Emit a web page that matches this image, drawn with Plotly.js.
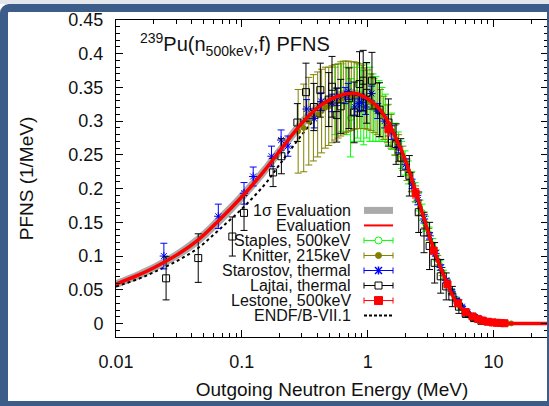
<!DOCTYPE html>
<html><head><meta charset="utf-8">
<script src="https://cdn.plot.ly/plotly-3.0.1.min.js"></script>
<style>
html,body{margin:0;padding:0;background:#fff;}
#wrap{position:relative;width:549px;height:406px;overflow:hidden;}
#plot{position:absolute;left:0;top:0;width:549px;height:406px;}
#strip{position:absolute;left:0;top:0;width:549px;height:4px;background:#e3e7ec;pointer-events:none;}
#frame{position:absolute;left:0;top:4px;width:549px;height:402px;box-sizing:border-box;border-style:solid;border-color:#3c5d8a;border-width:8px 2px 5px 8px;border-radius:9px 0 0 0;pointer-events:none;}
</style></head>
<body>
<div id="wrap"><div id="plot"></div><div id="strip"></div><div id="frame"></div></div>
<script>
// ---- Evaluation (red) and 1-sigma band ----
const E_eval = [0.01,0.015,0.02,0.03,0.045,0.065,0.1,0.15,0.2,0.3,0.4,0.5,0.6,0.7,0.8,0.9,1.0,1.2,1.4,1.7,2.0,2.4,2.8,3.3,3.8,4.4,5.0,5.7,6.5,7.5,8.5,10,12,15,20,27];
const pfns_eval = [0.0585,0.0716,0.0827,0.101,0.124,0.152,0.188,0.226,0.256,0.297,0.320,0.332,0.338,0.341,0.341,0.338,0.333,0.321,0.304,0.272,0.241,0.196,0.156,0.113,0.082,0.054,0.033,0.0205,0.0125,0.0072,0.0042,0.0016,0.0004,0.00005,0,0];
const band_hi = [0.0645,0.078,0.089,0.108,0.132,0.161,0.197,0.235,0.265,0.306,0.328,0.339,0.345,0.347,0.347,0.344,0.339,0.327,0.310,0.278,0.246,0.200,0.160,0.116,0.085,0.056,0.035,0.0215,0.013,0.0076,0.0045,0.0018,0.0005,0.00006,0,0];
const band_lo = [0.0525,0.0652,0.0764,0.094,0.116,0.143,0.179,0.217,0.247,0.288,0.312,0.325,0.331,0.335,0.335,0.332,0.327,0.315,0.298,0.266,0.236,0.192,0.152,0.110,0.079,0.052,0.031,0.0195,0.012,0.0068,0.0039,0.0014,0.0003,0.00004,0,0];
// ---- ENDF/B-VII.1 ----
const E_endf = [0.01,0.015,0.02,0.03,0.045,0.065,0.1,0.15,0.2,0.3,0.4,0.5,0.6,0.7,0.8,0.9,1.0,1.2,1.4,1.7,2.0,2.4,2.8,3.3,3.8,4.4,5.0,5.7,6.5,7.5,8.5,10,12,15,20,27];
const pfns_endf = [0.055,0.066,0.076,0.092,0.112,0.138,0.170,0.205,0.236,0.280,0.308,0.324,0.332,0.336,0.337,0.336,0.332,0.321,0.305,0.275,0.244,0.199,0.158,0.115,0.083,0.055,0.034,0.021,0.0127,0.0073,0.0043,0.0017,0.0004,0.00005,0,0];
// ---- Staples, 500keV ----
const E_staples = [0.55,0.62,0.68,0.73,0.78,0.83,0.88,0.93,0.98,1.04,1.1,1.16,1.23,1.3,1.38,1.46,1.55,1.65,1.75,1.86,1.98,2.1,2.24,2.38,2.53,2.7,2.88,3.07,3.28,3.5,3.75,4.0,4.3,4.6,5.0,5.4,5.9,6.4,7.0,7.7,8.5,9.4,10.4,11.5,12.7];
const pfns_staples = [0.33,0.335,0.33,0.305,0.325,0.33,0.325,0.32,0.33,0.325,0.32,0.318,0.315,0.31,0.305,0.295,0.285,0.273,0.262,0.25,0.238,0.224,0.21,0.195,0.18,0.165,0.148,0.133,0.117,0.101,0.086,0.073,0.06,0.048,0.036,0.026,0.018,0.012,0.008,0.005,0.003,0.0017,0.001,0.0005,0.0003];
const err_staples = [0.05,0.05,0.05,0.058,0.055,0.055,0.055,0.055,0.055,0.055,0.05,0.048,0.045,0.04,0.035,0.03,0.027,0.024,0.022,0.02,0.018,0.017,0.015,0.014,0.013,0.012,0.011,0.01,0.009,0.008,0.007,0.006,0.005,0.004,0.0035,0.003,0.0025,0.002,0.0015,0.001,0.0007,0.0005,0.0003,0.0002,0.0001];
// ---- Knitter, 215keV ----
const E_knitter = [0.28,0.31,0.34,0.37,0.40,0.43,0.46,0.49,0.52,0.55,0.58,0.61,0.64,0.67,0.70,0.74,0.78,0.82,0.86,0.90,0.95,1.0,1.06,1.12,1.19,1.26,1.34,1.43,1.53,1.64,1.76,1.9,2.05,2.22,2.4,2.6,2.82,3.06,3.32,3.6,3.9,4.25,4.65,5.1,5.6,6.2,6.9,7.7,8.6,9.6,10.8,12.2,13.8];
const pfns_knitter = [0.285,0.29,0.3,0.305,0.31,0.315,0.32,0.322,0.325,0.328,0.33,0.333,0.335,0.336,0.337,0.337,0.338,0.338,0.337,0.336,0.334,0.332,0.328,0.323,0.318,0.312,0.305,0.296,0.285,0.272,0.26,0.245,0.228,0.21,0.192,0.172,0.152,0.132,0.112,0.094,0.077,0.061,0.046,0.033,0.023,0.015,0.009,0.0055,0.003,0.0016,0.0008,0.0004,0.0002];
const err_knitter = [0.062,0.065,0.065,0.064,0.063,0.062,0.06,0.058,0.057,0.056,0.055,0.055,0.054,0.053,0.052,0.051,0.05,0.049,0.048,0.047,0.045,0.044,0.042,0.04,0.038,0.035,0.032,0.028,0.025,0.022,0.02,0.018,0.016,0.014,0.012,0.011,0.01,0.009,0.008,0.007,0.006,0.005,0.004,0.003,0.002,0.0015,0.001,0.0008,0.0005,0.0004,0.0003,0.0002,0.0001];
// ---- Starostov, thermal ----
const E_starostov = [0.024,0.065,0.104,0.123,0.172,0.205,0.232,0.327,0.375,0.427,0.52,0.57,0.66,0.70,0.79,0.84,0.89,0.96,1.07,1.2,1.36,1.55,1.75,2.0,2.25,2.5,2.8,3.1,3.45,3.8,4.2,4.65,5.1,5.6,6.2,6.9,7.7,8.6,9.6];
const pfns_starostov = [0.100,0.159,0.193,0.218,0.248,0.272,0.263,0.318,0.304,0.329,0.327,0.336,0.338,0.344,0.321,0.326,0.328,0.321,0.341,0.315,0.300,0.283,0.262,0.236,0.207,0.183,0.155,0.130,0.104,0.083,0.064,0.047,0.035,0.025,0.016,0.010,0.006,0.0035,0.0019];
const err_starostov = [0.019,0.018,0.016,0.014,0.015,0.015,0.015,0.014,0.014,0.013,0.013,0.013,0.012,0.012,0.012,0.012,0.012,0.011,0.011,0.011,0.010,0.010,0.009,0.008,0.007,0.007,0.006,0.005,0.004,0.004,0.003,0.003,0.002,0.002,0.0015,0.001,0.0008,0.0006,0.0005];
// ---- Lajtai, thermal ----
const E_lajtai = [0.025,0.045,0.084,0.104,0.177,0.206,0.276,0.323,0.373,0.42,0.49,0.52,0.567,0.61,0.71,0.78,0.86,0.92,0.98,1.08,1.24,1.46,1.68,1.83,2.14,2.54,2.8,3.1,3.4,3.8,4.2,4.7,5.3,6.0,7.0,8.0];
const pfns_lajtai = [0.067,0.097,0.129,0.164,0.224,0.248,0.298,0.343,0.321,0.346,0.332,0.351,0.309,0.322,0.334,0.313,0.355,0.36,0.342,0.36,0.317,0.298,0.266,0.246,0.219,0.165,0.135,0.115,0.09,0.07,0.055,0.04,0.025,0.015,0.008,0.004];
const err_lajtai = [0.032,0.036,0.029,0.026,0.021,0.026,0.028,0.043,0.035,0.04,0.04,0.045,0.04,0.04,0.045,0.045,0.048,0.045,0.045,0.042,0.04,0.035,0.03,0.028,0.03,0.03,0.03,0.035,0.03,0.025,0.02,0.015,0.01,0.006,0.004,0.002];
// ---- Lestone, 500keV ----
const E_lestone = [1.46,2.4,3.34,4.3,5.2,6.0,6.8,7.5,8.2,9.0,9.8,10.6,11.4,12.2];
const pfns_lestone = [0.288,0.193,0.108,0.058,0.030,0.017,0.0105,0.0068,0.0042,0.0026,0.0017,0.0011,0.0007,0.0004];
const err_lestone = [0.01,0.007,0.005,0.003,0.002,0.001,0.0008,0.0006,0.0004,0.0003,0.0002,0.00015,0.0001,0.0001];
// ---- legend labels / ticks ----
const legendLabels = ['1\u03c3 Evaluation','Evaluation','Staples, 500keV','Knitter, 215keV','Starostov, thermal','Lajtai, thermal','Lestone, 500keV','ENDF/B-VII.1'];
const xTickVals = [0.01,0.1,1,10];
const xTickText = ['0.01','0.1','1','10'];

const FONT = 'Liberation Sans, Arial, Helvetica, sans-serif';
const GREEN='#00ff00', OLIVE='#808000', BLUE='#0000ff', BLACK='#000000', RED='#ff0000', GRAY='#aaaaaa';

function errTrace(x,y,e,color,sym,size,mfill){
  return {x:x,y:y,type:'scatter',mode:'markers',showlegend:false,
    marker:{symbol:sym,size:size,color:mfill||color,line:{color:color,width:1}},
    error_y:{type:'data',array:e,visible:true,color:color,thickness:1,width:3.5}};
}

const traces = [
  {x:E_eval,y:band_lo,type:'scatter',mode:'lines',line:{width:0,color:GRAY,shape:'spline'},showlegend:false},
  {x:E_eval,y:band_hi,type:'scatter',mode:'lines',line:{width:0,color:GRAY,shape:'spline'},fill:'tonexty',fillcolor:GRAY,showlegend:false},
  {x:E_endf,y:pfns_endf,type:'scatter',mode:'lines',line:{color:BLACK,width:2,dash:'dot',shape:'spline'},showlegend:false},
  errTrace(E_staples,pfns_staples,err_staples,GREEN,'circle-open',6),
  errTrace(E_knitter,pfns_knitter,err_knitter,OLIVE,'circle',5),
  errTrace(E_starostov,pfns_starostov,err_starostov,BLUE,'asterisk-open',7),
  errTrace(E_lajtai,pfns_lajtai,err_lajtai,BLACK,'square-open',7),
  errTrace(E_lestone,pfns_lestone,err_lestone,RED,'square',7),
  {x:E_eval,y:pfns_eval,type:'scatter',mode:'lines',line:{color:RED,width:3.5,shape:'spline'},showlegend:false}
];

// plot-area geometry (pixels)
const PL=116, PR=548, PT=20, PB=337.5;
const X = p => (p-PL)/(PR-PL);
const Y = p => (PB-p)/(PB-PT);

const shapes=[], annotations=[];
const keyColors=[GRAY,RED,GREEN,OLIVE,BLUE,BLACK,RED,BLACK];
const kx0=364, kx1=393, kxm=378.5, tx=352.7;
legendLabels.forEach((lab,i)=>{
  const yc = 210.7 + 15.05*i;
  annotations.push({xref:'paper',yref:'paper',x:X(tx),y:Y(yc),xanchor:'right',yanchor:'middle',showarrow:false,text:lab,font:{family:FONT,size:16,color:'#111'}});
  const c = keyColors[i];
  if(i===0){
    shapes.push({type:'rect',xref:'paper',yref:'paper',x0:X(kx0),x1:X(kx1),y0:Y(yc-3.5),y1:Y(yc+3.5),fillcolor:c,line:{width:0}});
  } else if(i===1){
    shapes.push({type:'line',xref:'paper',yref:'paper',x0:X(kx0),x1:X(kx1),y0:Y(yc),y1:Y(yc),line:{color:c,width:2}});
  } else if(i===7){
    shapes.push({type:'line',xref:'paper',yref:'paper',x0:X(kx0),x1:X(kx1),y0:Y(yc),y1:Y(yc),line:{color:c,width:2,dash:'3px,2px'}});
  } else {
    shapes.push({type:'line',xref:'paper',yref:'paper',x0:X(kx0),x1:X(kx1),y0:Y(yc),y1:Y(yc),line:{color:c,width:1}});
    [kx0,kx1].forEach(kx=>shapes.push({type:'line',xref:'paper',yref:'paper',x0:X(kx),x1:X(kx),y0:Y(yc-3),y1:Y(yc+3),line:{color:c,width:1}}));
    if(i===2) shapes.push({type:'circle',xref:'paper',yref:'paper',x0:X(kxm-3.5),x1:X(kxm+3.5),y0:Y(yc-3.5),y1:Y(yc+3.5),fillcolor:'#fff',line:{color:c,width:1}});
    if(i===3) shapes.push({type:'circle',xref:'paper',yref:'paper',x0:X(kxm-3),x1:X(kxm+3),y0:Y(yc-3),y1:Y(yc+3),fillcolor:c,line:{color:c,width:1}});
    if(i===4){
      shapes.push({type:'line',xref:'paper',yref:'paper',x0:X(kxm-3.5),x1:X(kxm+3.5),y0:Y(yc-3.5),y1:Y(yc+3.5),line:{color:c,width:1.5}});
      shapes.push({type:'line',xref:'paper',yref:'paper',x0:X(kxm-3.5),x1:X(kxm+3.5),y0:Y(yc+3.5),y1:Y(yc-3.5),line:{color:c,width:1.5}});
      shapes.push({type:'line',xref:'paper',yref:'paper',x0:X(kxm),x1:X(kxm),y0:Y(yc-4),y1:Y(yc+4),line:{color:c,width:1.5}});
    }
    if(i===5) shapes.push({type:'rect',xref:'paper',yref:'paper',x0:X(kxm-3.5),x1:X(kxm+3.5),y0:Y(yc-3.5),y1:Y(yc+3.5),fillcolor:'#fff',line:{color:c,width:1}});
    if(i===6) shapes.push({type:'rect',xref:'paper',yref:'paper',x0:X(kxm-4),x1:X(kxm+4),y0:Y(yc-4),y1:Y(yc+4),fillcolor:c,line:{color:c,width:1}});
  }
});
annotations.push({xref:'paper',yref:'paper',x:X(138),y:Y(45),xanchor:'left',yanchor:'middle',showarrow:false,
  text:'<sup>239</sup>Pu(n<sub>500keV</sub>,f) PFNS',font:{family:FONT,size:20,color:'#111'}});

const minorX=[];
[0.01,0.1,1,10].forEach(d=>{for(let k=2;k<=9;k++)minorX.push(d*k);});

const layout = {
  width:549,height:406,
  margin:{l:PL,r:549-PR,t:PT,b:406-PB},
  paper_bgcolor:'#ffffff',plot_bgcolor:'#ffffff',
  showlegend:false,
  font:{family:FONT,size:18,color:'#111'},
  xaxis:{type:'log',range:[-2,1.432],tickmode:'array',tickvals:xTickVals,ticktext:xTickText,
    ticks:'inside',ticklen:7,tickcolor:'#000',showline:true,linecolor:'#000',linewidth:1,mirror:'allticks',
    showgrid:false,zeroline:false,automargin:false,tickfont:{size:18},ticklabelstandoff:8,
    minor:{tickmode:'array',tickvals:minorX,ticks:'inside',ticklen:4,tickcolor:'#000',showgrid:false},
    title:{text:'Outgoing Neutron Energy (MeV)',font:{size:19},standoff:12}},
  yaxis:{range:[-0.02,0.45],tickmode:'linear',tick0:0,dtick:0.05,
    ticks:'inside',ticklen:7,tickcolor:'#000',showline:true,linecolor:'#000',linewidth:1,mirror:'allticks',
    showgrid:false,zeroline:false,automargin:false,tickfont:{size:18},ticklabelstandoff:8,
    minor:{dtick:0.01,ticks:'inside',ticklen:4,tickcolor:'#000',showgrid:false},
    title:{text:'PFNS (1/MeV)',font:{size:19},standoff:29}},
  shapes:shapes,annotations:annotations
};
Plotly.newPlot('plot',traces,layout,{staticPlot:true,displayModeBar:false});
</script>
</body></html>
